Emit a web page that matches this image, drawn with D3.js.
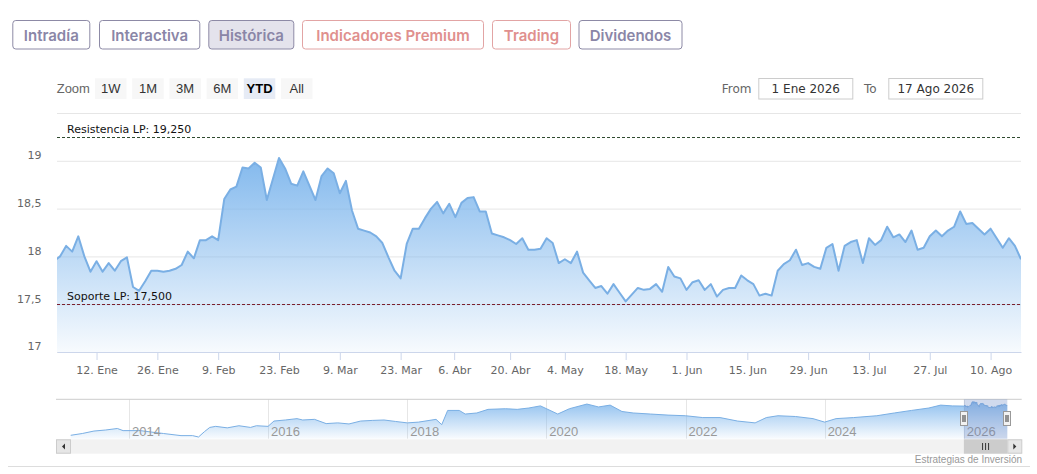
<!DOCTYPE html>
<html>
<head>
<meta charset="utf-8">
<script src="https://cdn.jsdelivr.net/npm/d3@7"></script>
<style>
body { margin: 0; background: #fff; }
</style>
</head>
<body>
<div id="chart"></div>
<script>
// ---- data ----
var tabNames = ["Intradía", "Interactiva", "Histórica", "Indicadores Premium", "Trading", "Dividendos"];
var zoomNames = ["1W", "1M", "3M", "6M", "YTD", "All"];
var fromLabel = "1 Ene 2026";
var toLabel = "17 Ago 2026";

// market holidays in the range (days without a quote)
var holidays = ["2026-01-01", "2026-04-03", "2026-04-06", "2026-05-01"];

// daily closes, 31 Dic 2025 -> 17 Ago 2026 (thousands of points)
var closeValues = [
    17.95, 18.00, 18.11, 18.05, 18.21, 18.00, 17.84, 17.95, 17.84, 17.93,
    17.85, 17.95, 17.99, 17.68, 17.64, 17.74, 17.85, 17.85, 17.84, 17.85,
    17.87, 17.91, 18.05, 17.98, 18.17, 18.17, 18.21, 18.17, 18.60, 18.70,
    18.73, 18.93, 18.92, 18.98, 18.93, 18.59, 18.81, 19.03, 18.92, 18.76,
    18.74, 18.89, 18.74, 18.59, 18.84, 18.92, 18.87, 18.66, 18.79, 18.48,
    18.29, 18.27, 18.25, 18.21, 18.14, 17.99, 17.85, 17.77, 18.13, 18.29,
    18.29, 18.40, 18.50, 18.57, 18.45, 18.55, 18.41, 18.56, 18.61, 18.62,
    18.47, 18.47, 18.24, 18.22, 18.20, 18.17, 18.13, 18.19, 18.07, 18.07,
    18.08, 18.19, 18.14, 17.93, 17.97, 17.93, 18.05, 17.83, 17.75, 17.67,
    17.69, 17.61, 17.71, 17.62, 17.53, 17.60, 17.67, 17.65, 17.66, 17.71,
    17.63, 17.89, 17.79, 17.77, 17.65, 17.73, 17.75, 17.65, 17.71, 17.58,
    17.65, 17.67, 17.67, 17.80, 17.75, 17.71, 17.59, 17.61, 17.59, 17.85,
    17.92, 17.96, 18.07, 17.91, 17.93, 17.89, 17.87, 18.09, 18.13, 17.85,
    18.11, 18.15, 18.17, 17.93, 18.19, 18.12, 18.17, 18.31, 18.20, 18.23,
    18.15, 18.27, 18.07, 18.09, 18.21, 18.27, 18.21, 18.27, 18.31, 18.47,
    18.34, 18.35, 18.29, 18.23, 18.29, 18.19, 18.09, 18.19, 18.11, 17.97
];

var tickDates = ["2026-01-12", "2026-01-26", "2026-02-09", "2026-02-23", "2026-03-09", "2026-03-23",
    "2026-04-06", "2026-04-20", "2026-05-04", "2026-05-18", "2026-06-01", "2026-06-15",
    "2026-06-29", "2026-07-13", "2026-07-27", "2026-08-10"];
var tickLabels = ["12. Ene", "26. Ene", "9. Feb", "23. Feb", "9. Mar", "23. Mar",
    "6. Abr", "20. Abr", "4. May", "18. May", "1. Jun", "15. Jun",
    "29. Jun", "13. Jul", "27. Jul", "10. Ago"];

var yTicks = [17, 17.5, 18, 18.5, 19, 19.5];
var yTickLabels = ["17", "17,5", "18", "18,5", "19", ""];

var levelValues = [19.25, 17.5];
var levelLabels = ["Resistencia LP: 19,250", "Soporte LP: 17,500"];
var levelColors = ["#2f4a2f", "#7a1f2e"];

// long history for the navigator (monthly readings)
var navDates = ["2013-03", "2013-05", "2013-07", "2013-09", "2013-11", "2013-12", "2014-03", "2014-05",
    "2014-07", "2014-10", "2014-12", "2015-01", "2015-02", "2015-03", "2015-04", "2015-06",
    "2015-08", "2015-10", "2015-11", "2016-01", "2016-02", "2016-04", "2016-06", "2016-07",
    "2016-09", "2016-11", "2017-01", "2017-03", "2017-05", "2017-07", "2017-09", "2017-11",
    "2018-01", "2018-03", "2018-06", "2018-07", "2018-08", "2018-10", "2018-11", "2019-01",
    "2019-03", "2019-06", "2019-08", "2019-10", "2019-12", "2020-03", "2020-05", "2020-08",
    "2020-10", "2020-12", "2021-02", "2021-04", "2021-07", "2021-10", "2022-01", "2022-04",
    "2022-07", "2022-10", "2023-01", "2023-03", "2023-05", "2023-08", "2023-11", "2024-01",
    "2024-03", "2024-06", "2024-10", "2025-01", "2025-04", "2025-07", "2025-09", "2025-11"];
var navValues = [11.08, 11.50, 12.08, 12.33, 12.68, 12.18, 12.18, 11.83,
    11.50, 11.00, 11.00, 10.68, 11.93, 12.93, 13.18, 12.83,
    13.33, 12.93, 13.33, 13.18, 14.43, 14.68, 15.00, 14.68,
    14.83, 13.83, 14.00, 13.75, 14.43, 14.58, 14.68, 14.33,
    14.00, 14.18, 14.83, 13.58, 16.93, 16.93, 16.08, 16.33,
    17.18, 17.33, 17.18, 17.50, 18.00, 16.08, 17.33, 18.43,
    17.75, 18.18, 16.68, 16.33, 16.08, 15.83, 15.68, 15.25,
    15.25, 14.43, 14.00, 15.25, 15.68, 15.50, 15.00, 14.18,
    15.00, 15.25, 15.68, 16.33, 16.93, 17.50, 18.18, 18.00];
var navYears = [2014, 2016, 2018, 2020, 2022, 2024, 2026];

// ---- layout ----
var svgWidth = 1037;
var svgHeight = 474;
var plot = { left: 57, right: 1021, top: 113, bottom: 352 };
var nav = { left: 70.7, right: 1007.3, top: 399.3, bottom: 438.7 };

var mainFont = "'DejaVu Sans', Verdana, sans-serif";
var narrowFont = "'Liberation Sans Narrow', 'Liberation Sans', Arial, sans-serif";
var tabFont = "Inter, 'Open Sans', sans-serif";

var parseDay = d3.timeParse("%Y-%m-%d");
var parseMonth = d3.timeParse("%Y-%m");
var fmtDay = d3.timeFormat("%Y-%m-%d");

// trading days (weekdays minus holidays)
var tradingDates = [];
for (var d = new Date(2025, 11, 31); d <= new Date(2026, 7, 17); d.setDate(d.getDate() + 1)) {
    if (d.getDay() > 0 && d.getDay() < 6 && holidays.indexOf(fmtDay(d)) < 0) {
        tradingDates.push(new Date(d));
    }
}

// position of any date on the ordinal (trading day) axis
function ordinalPos(date) {
    var i = d3.bisectLeft(tradingDates, date);
    if (i < tradingDates.length && +tradingDates[i] === +date) return i;
    var a = tradingDates[i - 1], b = tradingDates[i];
    return i - 1 + (date - a) / (b - a);
}

var svg = d3.select("#chart")
    .append("svg")
    .attr("width", svgWidth)
    .attr("height", svgHeight)
    .style("display", "block");

svg.append("rect").attr("width", svgWidth).attr("height", svgHeight).attr("fill", "#fff");

var defs = svg.append("defs");

function addGradient(id, top, bottom) {
    var g = defs.append("linearGradient")
        .attr("id", id)
        .attr("x1", 0).attr("y1", 0).attr("x2", 0).attr("y2", 1);
    g.append("stop").attr("offset", "0").attr("stop-color", "#7cb5ec").attr("stop-opacity", top);
    g.append("stop").attr("offset", "1").attr("stop-color", "#7cb5ec").attr("stop-opacity", bottom);
}
addGradient("areaGrad", 0.95, 0.06);
addGradient("navGrad", 0.85, 0.05);

defs.append("clipPath").attr("id", "plotClip")
    .append("rect")
    .attr("x", plot.left).attr("y", plot.top)
    .attr("width", plot.right - plot.left).attr("height", plot.bottom - plot.top);

// ---- tabs ----
var tabBoxes = [[12.3, 77], [99, 100.3], [208.3, 85], [302, 181], [492, 78], [578.5, 103]];
var tabs = svg.append("g").attr("class", "tabs");
tabNames.forEach(function (name, i) {
    var red = (i === 3 || i === 4);
    var active = (i === 2);
    tabs.append("rect")
        .attr("x", tabBoxes[i][0] + 0.5).attr("y", 20.5)
        .attr("width", tabBoxes[i][1]).attr("height", 28.5)
        .attr("rx", 3)
        .attr("fill", active ? "#e4e3ec" : "#fff")
        .attr("stroke", red ? "#e2a4a4" : "#8d8aa6")
        .attr("stroke-width", 1);
    tabs.append("text")
        .attr("x", tabBoxes[i][0] + 0.5 + tabBoxes[i][1] / 2)
        .attr("y", 40.5)
        .attr("text-anchor", "middle")
        .attr("font-family", tabFont)
        .attr("font-weight", 600)
        .attr("font-size", "15px")
        .attr("fill", red ? "#e0908e" : "#8a86a7")
        .text(name);
});

// ---- range selector ----
var rangeG = svg.append("g");
rangeG.append("text")
    .attr("x", 56.7).attr("y", 92.5)
    .attr("font-family", narrowFont).attr("font-size", "13px")
    .attr("fill", "#666").text("Zoom");

zoomNames.forEach(function (name, i) {
    var bx = 95 + i * 37.2;
    var sel = name === "YTD";
    rangeG.append("rect")
        .attr("x", bx).attr("y", 78.3)
        .attr("width", 31.5).attr("height", 20.7)
        .attr("fill", sel ? "#e6ebf5" : "#f7f7f7");
    rangeG.append("text")
        .attr("x", bx + 15.75).attr("y", 92.5)
        .attr("text-anchor", "middle")
        .attr("font-family", narrowFont).attr("font-size", "13px")
        .attr("font-weight", sel ? "bold" : "normal")
        .attr("fill", sel ? "#000" : "#333")
        .text(name);
});

rangeG.append("text")
    .attr("x", 721.7).attr("y", 92.5)
    .attr("font-family", mainFont).attr("font-size", "12px")
    .attr("fill", "#666").text("From");
rangeG.append("text")
    .attr("x", 864).attr("y", 92.5)
    .attr("font-family", mainFont).attr("font-size", "12px")
    .attr("fill", "#666").text("To");

[[758.3, fromLabel], [888.3, toLabel]].forEach(function (b) {
    rangeG.append("rect")
        .attr("x", b[0] + 0.5).attr("y", 78.5)
        .attr("width", 94).attr("height", 20.5)
        .attr("fill", "#fff").attr("stroke", "#cccccc");
    rangeG.append("text")
        .attr("x", b[0] + 47.5).attr("y", 92.5)
        .attr("text-anchor", "middle")
        .attr("font-family", mainFont).attr("font-size", "12px")
        .attr("fill", "#333").text(b[1]);
});

// ---- scales ----
var xScale = d3.scaleLinear()
    .domain([ordinalPos(new Date(2026, 0, 1)), tradingDates.length - 1])
    .range([plot.left, plot.right]);

var yScale = d3.scaleLinear()
    .domain([17, 19.5])
    .range([plot.bottom, plot.top]);

// grid + y labels
var yAxis = d3.axisLeft(yScale)
    .tickValues(yTicks)
    .tickFormat(function (v, i) { return yTickLabels[i]; })
    .tickSize(-(plot.right - plot.left))
    .tickPadding(15.5);

var yG = svg.append("g")
    .attr("transform", "translate(" + plot.left + ",0)")
    .call(yAxis);
yG.select(".domain").remove();
yG.selectAll("line").attr("stroke", "#e6e6e6");
yG.selectAll("text")
    .attr("dy", "-0.2em")
    .attr("font-family", mainFont)
    .attr("font-size", "11px")
    .attr("fill", "#666");

// ---- series ----
var area = d3.area()
    .x(function (v, i) { return xScale(i); })
    .y0(plot.bottom)
    .y1(function (v) { return yScale(v); });

var line = d3.line()
    .x(function (v, i) { return xScale(i); })
    .y(function (v) { return yScale(v); });

var series = svg.append("g").attr("clip-path", "url(#plotClip)");
series.append("path")
    .datum(closeValues)
    .attr("d", area)
    .attr("fill", "url(#areaGrad)");
series.append("path")
    .datum(closeValues)
    .attr("d", line)
    .attr("fill", "none")
    .attr("stroke", "#7aafe4")
    .attr("stroke-width", 2)
    .attr("stroke-linejoin", "round");

// x axis
var tickPos = tickDates.map(function (s) { return ordinalPos(parseDay(s)); });
var xAxis = d3.axisBottom(xScale)
    .tickValues(tickPos)
    .tickFormat(function (v, i) { return tickLabels[i]; })
    .tickSizeInner(8)
    .tickSizeOuter(0)
    .tickPadding(6);

var xG = svg.append("g")
    .attr("transform", "translate(0," + plot.bottom + ")")
    .call(xAxis);
xG.select(".domain").attr("stroke", "#ccd6eb");
xG.selectAll("line").attr("stroke", "#ccd6eb");
xG.selectAll("text")
    .attr("font-family", mainFont)
    .attr("font-size", "11px")
    .attr("fill", "#666");

// support / resistance lines
levelValues.forEach(function (v, i) {
    svg.append("line")
        .attr("x1", plot.left).attr("x2", plot.right)
        .attr("y1", Math.round(yScale(v)) + 0.5).attr("y2", Math.round(yScale(v)) + 0.5)
        .attr("stroke", levelColors[i])
        .attr("stroke-width", 1)
        .attr("stroke-dasharray", "3,2");
    svg.append("text")
        .attr("x", 67).attr("y", yScale(v) - 4)
        .attr("font-family", mainFont)
        .attr("font-size", "11px")
        .attr("fill", "#111")
        .text(levelLabels[i]);
});

// ---- navigator ----
var navSeries = navDates.map(function (s, i) { return { date: parseMonth(s), value: navValues[i] }; })
    .concat(tradingDates.map(function (dt, i) { return { date: dt, value: closeValues[i] }; }));

var navX = d3.scaleTime()
    .domain([navSeries[0].date, tradingDates[tradingDates.length - 1]])
    .range([nav.left, nav.right]);
var navY = d3.scaleLinear()
    .domain(d3.extent(navSeries, function (p) { return p.value; }))
    .range([437, 401.5]);

var navG = svg.append("g");

navYears.forEach(function (yr) {
    var px = Math.round(navX(new Date(yr, 0, 1))) + 0.5;
    navG.append("line")
        .attr("x1", px).attr("x2", px)
        .attr("y1", nav.top).attr("y2", nav.bottom)
        .attr("stroke", "#e6e6e6");
});

navG.append("path")
    .datum(navSeries)
    .attr("d", d3.area()
        .x(function (p) { return navX(p.date); })
        .y0(nav.bottom)
        .y1(function (p) { return navY(p.value); }))
    .attr("fill", "url(#navGrad)");
navG.append("path")
    .datum(navSeries)
    .attr("d", d3.line()
        .x(function (p) { return navX(p.date); })
        .y(function (p) { return navY(p.value); }))
    .attr("fill", "none")
    .attr("stroke", "#7aafe4")
    .attr("stroke-width", 1);

navYears.forEach(function (yr) {
    navG.append("text")
        .attr("x", navX(new Date(yr, 0, 1)) + 3)
        .attr("y", 435.5)
        .attr("font-family", narrowFont)
        .attr("font-size", "13px")
        .attr("fill", "#999")
        .text(yr);
});

navG.append("line")
    .attr("x1", 56).attr("x2", 1021.7)
    .attr("y1", nav.top).attr("y2", nav.top)
    .attr("stroke", "#cccccc");

// selected range
var selL = navX(new Date(2026, 0, 1));
var selR = nav.right;
navG.append("rect")
    .attr("x", selL).attr("y", nav.top)
    .attr("width", selR - selL).attr("height", nav.bottom - nav.top)
    .attr("fill", "rgba(102,133,194,0.3)");

[selL, selR].forEach(function (hx) {
    navG.append("rect")
        .attr("x", Math.round(hx) - 3.5).attr("y", 411.5)
        .attr("width", 7).attr("height", 14)
        .attr("fill", "#f2f2f2").attr("stroke", "#999");
    navG.append("path")
        .attr("d", "M" + (Math.round(hx) - 1) + ",415V422M" + (Math.round(hx) + 1) + ",415V422")
        .attr("stroke", "#333").attr("stroke-width", 1);
});

// scrollbar
var sbY = 439.3, sbH = 14.4;
navG.append("rect")
    .attr("x", 56).attr("y", sbY)
    .attr("width", 1021.7 - 56).attr("height", sbH)
    .attr("fill", "#f2f2f2");
navG.append("rect")
    .attr("x", selL).attr("y", sbY)
    .attr("width", selR - selL).attr("height", sbH)
    .attr("fill", "#cccccc");
navG.append("path")
    .attr("d", "M" + ((selL + selR) / 2 - 3) + ",443V450M" + ((selL + selR) / 2) + ",443V450M" + ((selL + selR) / 2 + 3) + ",443V450")
    .attr("stroke", "#333").attr("stroke-width", 1);

[[56, "L"], [1007.3, "R"]].forEach(function (b) {
    navG.append("rect")
        .attr("x", b[0] + 0.5).attr("y", sbY + 0.5)
        .attr("width", 14).attr("height", sbH - 1)
        .attr("fill", "#e6e6e6").attr("stroke", "#cccccc");
    var cx = b[0] + 7.5, cy = sbY + sbH / 2;
    var tri = b[1] === "L"
        ? "M" + (cx + 1.5) + "," + (cy - 3) + "L" + (cx - 1.5) + "," + cy + "L" + (cx + 1.5) + "," + (cy + 3) + "Z"
        : "M" + (cx - 1.5) + "," + (cy - 3) + "L" + (cx + 1.5) + "," + cy + "L" + (cx - 1.5) + "," + (cy + 3) + "Z";
    navG.append("path").attr("d", tri).attr("fill", "#333");
});

// credit + bottom rule
svg.append("text")
    .attr("x", 1022).attr("y", 463)
    .attr("text-anchor", "end")
    .attr("font-family", narrowFont)
    .attr("font-size", "10px")
    .attr("fill", "#999")
    .text("Estrategias de Inversión");

svg.append("line")
    .attr("x1", 8).attr("x2", 1030)
    .attr("y1", 466.5).attr("y2", 466.5)
    .attr("stroke", "#dddddd");
</script>
</body>
</html>
